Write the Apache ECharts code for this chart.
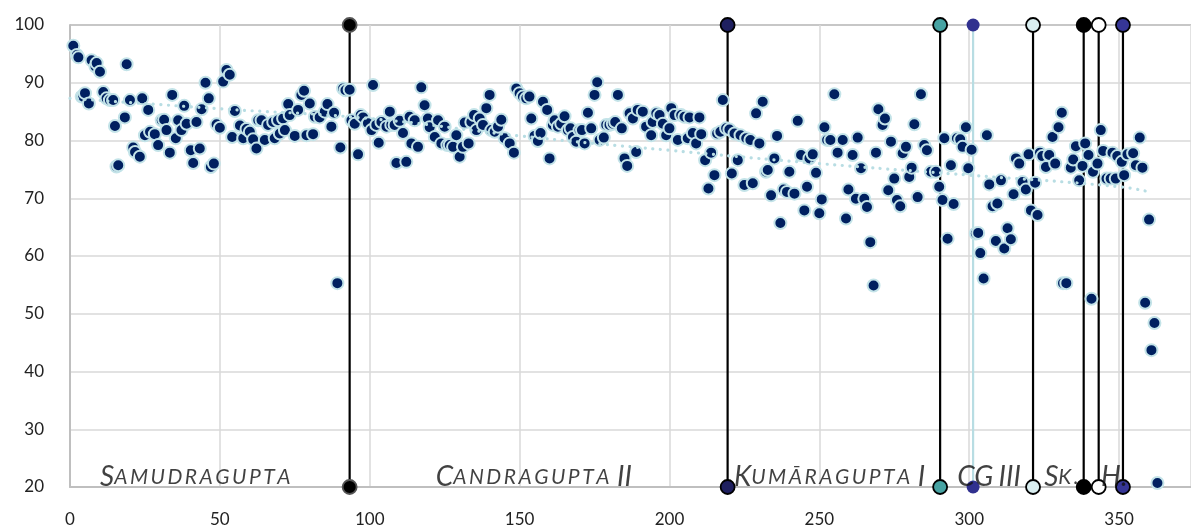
<!DOCTYPE html>
<html>
<head>
    <meta http-equiv="Content-Type" content="text/html; charset=utf-8" />
    <script type="text/javascript" src="https://cdn.jsdelivr.net/npm/echarts@6/dist/echarts.min.js"></script>
</head>
<body style="margin:0;">
    <div id="chartDom" style="width: 1191px; height: 531px;"></div>

    <script type="text/javascript">
        // scores, split by reign
        var samudraguptaPts = [
            [1.1,96.4],[2.3,94.8],[2.8,94.4],[3.9,87.6],[4.4,87.6],[5,88.2],[6.3,86.4],[7.2,93.9],[8.5,92.8],[8.9,93.4],
            [10,91.9],[11.1,88.4],[12.2,87.3],[13.3,87],[14.4,87],[15,82.5],[15.5,75.5],[16.1,75.7],[18.3,84],[18.9,93.2],
            [20,87],[21.1,78.8],[21.7,78],[23.3,77.2],[24.1,87.3],[25,80.9],[26.1,85.3],[26.7,81.5],[28.3,81.1],[29.4,79.2],
            [30.6,83.5],[31.4,83.6],[32.2,81.8],[33.3,77.9],[34.1,87.9],[35.3,80.4],[36.1,83.5],[37.2,81.8],[38.1,86],[38.9,82.9],
            [40.3,78.3],[41.1,76.1],[42.2,83.2],[43.3,78.6],[43.9,85.4],[45.2,90],[46.3,87.3],[47,75.4],[48,76],[48.9,82.8],
            [50,82.2],[51.1,90.2],[52.2,92.2],[53.3,91.4],[54.1,80.6],[55,85.1],[56.7,82.6],[57.8,80.4],[58.9,82],[60,81.5],
            [61.1,80.2],[62.2,78.6],[62.8,83.5],[63.9,83.5],[65,80.1],[66.1,82.7],[67.8,83.2],[68.3,80.4],[69.4,83.5],[70,81.2],
            [71.1,83.8],[71.7,81.8],[72.8,86.3],[73.3,84.4],[75,80.8],[76.1,85.3],[77.2,87.9],[78.1,88.6],[78.9,80.9],[80,86.4],
            [81.1,81.1],[81.7,84.1],[83.3,84],[85,85],[85.9,86.3],[87.2,82.4],[88.1,84.8],[89.2,55.3],[90.2,78.8],[91.1,89],
            [91.9,88.7],[93.3,88.8]
        ];
        var candraguptaPts = [
            [93.9,83.5],[95,82.9],[96.1,77.6],[97,84.4],[97.8,84],[99.4,83],[100.6,81.8],[101.1,89.6],[102.2,82.7],[103,79.6],
            [103.9,83.2],[105.6,82.4],[106.7,85],[107.2,82.7],[108.3,82.7],[108.9,76.1],[110,83.4],[111.1,81.3],[112.2,76.3],[113.3,84.1],
            [113.9,79.5],[115,83.5],[116.1,78.9],[117.2,89.2],[118.3,86.1],[119.4,83.8],[120,82.3],[121.7,80.6],[122.8,83.5],[123.9,79.5],
            [125,82.4],[125.9,79.2],[126.7,79.2],[127.8,78.9],[128.9,80.9],[130,77.2],[131.1,78.9],[131.7,83.1],[133,79.5],[133.9,83.2],
            [134.8,84.4],[135.6,81.8],[136.7,83.8],[137.8,82.7],[138.9,85.6],[140,87.9],[140.6,81.8],[141.7,81.5],[142.8,82.4],[143.9,83.6],
            [145,80.4],[146.7,79.5],[148.1,77.9],[148.9,89],[150,88.2],[151.1,87.6],[152.2,87.3],[153.3,87.6],[153.9,83.8],[155,80.8],
            [156.1,79.9],[157,81.3],[157.8,86.7],[159.2,85.3],[160,76.9],[161.1,82.7],[161.7,83.5],[162.8,82.4],[163.9,82.9],[165,84.2],
            [166.1,81.8],[167,82.1],[167.8,80.6],[168.9,79.8],[170,81.8],[170.8,81.8],[171.7,79.5],[172.8,84.8],[173.9,82.1],[175,87.9],
            [175.9,90.1],[176.7,80.1],[178.1,80.5],[178.9,82.7],[180,82.7],[181.1,82.9],[181.9,83.2],[182.8,87.9],[184.1,82.1],[185,76.9],
            [185.9,75.6],[186.7,84.7],[187.8,83.8],[188.9,78],[189.4,85.3],[191.1,85],[192.2,82.4],[193.9,80.9],[194.4,83.2],[195.6,84.7],
            [196.7,84.4],[197.8,82.9],[198.9,80.9],[200,82.1],[200.6,85.6],[201.7,84.4],[202.8,80.1],[203.9,84.4],[205,84.1],[206.1,80.4],
            [206.7,84],[207.8,81.3],[208.9,79.5],[210,84],[210.6,81.1],[211.9,76.6],[213,71.7],[213.9,77.9],[215,74],[215.9,81.2],
            [217,81.5],[217.8,87],[218.9,82.1]
        ];
        var kumaraguptaPts = [
            [220,81.9],[220.8,74.3],[221.7,81.2],[222.8,76.6],[223.7,80.9],[225,72.3],[225.6,80.4],[227,80.1],[227.8,72.6],[228.9,84.7],
            [230,79.5],[231.1,86.7],[232.2,74.6],[232.8,74.9],[233.9,70.5],[235,76.9],[235.9,80.8],[237,65.7],[238.1,71.5],[239.2,71.1],
            [240,74.6],[241.7,70.8],[242.8,83.4],[243.9,77.5],[245,67.9],[245.9,72],[246.7,76.9],[247.8,77.6],[248.9,74.4],[250,67.4],
            [250.8,69.8],[251.7,82.3],[252.6,80.1],[253.7,80.1],[255,88],[256.1,77.9],[257.8,80.1],[258.9,66.5],[259.7,71.5],[261.1,77.5],
            [262.2,69.9],[262.8,80.5],[263.9,75.2],[265,69.9],[265.9,68.5],[267,62.4],[268.1,54.9],[268.9,77.9],[269.7,85.4],[271.1,82.7],
            [271.9,83.8],[273,71.4],[273.9,79.8],[275,73.4],[275.9,69.7],[277,68.6],[277.8,77.8],[278.9,78.9],[280,73.7],[280.8,75.3],
            [281.7,82.8],[282.8,70.2],[283.9,88],[285,79.2],[285.9,78.3],[287.2,74.6],[288.9,74.6],[290,72]
        ];
        var laterPts = [
            [291.1,69.7],[291.7,80.4],[292.8,63],[293.9,75.7],[294.8,69],[295.9,80.4],[297,80.2],[297.8,78.9],[298.9,82.3],[299.7,75.2],
            [300.8,78.4],[302.2,63.9],[303,64],[303.7,60.5],[304.8,56.1],[305.9,80.9],[306.7,72.4],[307.8,68.6],[308.9,62.6],[309.4,69.1],
            [310.6,73.1],[311.7,61.3],[312.8,64.8],[313.9,62.9],[314.8,70.7],[315.6,76.9],[316.7,76],[317.8,72.8],[318.9,71.5],[319.8,77.6],
            [320.6,67.9],[322,72.7],[322.8,67.1],[323.6,77.9],[324.4,77.3],[325.6,75.4],[326.7,77.5],[327.8,80.6],[328.7,76],[329.8,82.3],
            [330.9,84.8],[331.3,55.3],[332.4,55.3],[333.9,75.3],[334.7,76.7],[335.6,79],[336.7,73.1],[337.8,75.6],[338.7,79.5],[339.8,77.5],
            [340.8,52.6],[341.3,74.6],[342.8,76],[343.9,81.8],[344.7,78.2],[345.8,73.4],[347.2,73.4],[347.8,77.9],[348.9,73.4],[349.4,77.3],
            [350.9,76.3],[351.7,74],[352.8,77.6],[354.7,77.8],[355.6,75.7],[356.9,80.5],[357.8,75.3],[358.7,51.9],[360,66.3],[360.8,43.7],
            [361.8,48.4],[362.8,20.7]
        ];

        // dotted trend, read at a few x positions
        var trendX = [0, 50, 100, 150, 200, 250, 300, 350, 360];
        var trendY = [87.3, 85.5, 83.8, 80.8, 78.3, 76, 74, 72, 71.1];

        // reign boundaries
        var dividerX = [93.3, 219.4, 290.3, 301.3, 321.3, 338.2, 343.2, 351.3];
        var dividerFill = ['#000000', '#1f2060', '#47a3a3', '#30308f', '#d9eef0', '#000000', '#ffffff', '#363696'];
        var dividerLine = ['#000000', '#000000', '#000000', '#b8dde3', '#000000', '#000000', '#000000', '#000000'];
        var dividerBorder = ['#555555', '#000000', '#000000', '#30308f', '#000000', '#000000', '#000000', '#000000'];

        var reignNames = ['Samudragupta', 'Candragupta II', 'Kumāragupta I', 'CG III', 'Sk.', 'H.'];
        var reignStart = [10, 122, 221.5, 296, 325, 344];

        var yTicks = [20, 100];
        var xTicks = [0, 374];

        // fake small caps: capital stays big, the rest goes small and a bit spaced out
        function smallCaps(name) {
            return name.split(' ').map(function (w) {
                if (w === w.toUpperCase() && /[A-Z]/.test(w)) return '{big|' + w + '}';
                var rest = w.slice(1).toUpperCase().split('').map(function (c) {
                    return '{small|' + c + '}';
                }).join('');
                return '{big|' + w.charAt(0) + '}' + rest;
            }).join('{gap| }');
        }

        var series = [];
        dividerX.forEach(function (x, i) {
            series.push({
                type: 'line',
                data: [[x, yTicks[0]], [x, yTicks[1]]],
                symbol: 'circle',
                symbolSize: i === 3 ? 13 : 14,
                showSymbol: true,
                clip: false,
                z: 2,
                lineStyle: { color: dividerLine[i], width: 2.2 },
                itemStyle: { color: dividerFill[i], borderColor: dividerBorder[i], borderWidth: i === 3 ? 0 : 1.8 },
                emphasis: { disabled: true },
                silent: true
            });
        });

        series.push({
            type: 'scatter',
            data: samudraguptaPts.concat(candraguptaPts, kumaraguptaPts, laterPts),
            symbol: 'circle',
            symbolSize: 12,
            z: 3,
            itemStyle: { color: '#002060', borderColor: '#c3e3e8', borderWidth: 2, opacity: 1 },
            silent: true
        });

        series.push({
            type: 'line',
            data: trendX.map(function (x, i) { return [x, trendY[i]]; }),
            smooth: true,
            showSymbol: false,
            z: 4,
            lineStyle: { color: '#b8dde3', width: 3.2, type: [0.1, 7.5], cap: 'round' },
            silent: true
        });

        series.push({
            type: 'scatter',
            data: reignStart.map(function (x, i) { return [x, yTicks[0], reignNames[i]]; }),
            symbolSize: 0,
            z: 5,
            silent: true,
            label: {
                show: true,
                position: 'right',
                distance: 0,
                verticalAlign: 'bottom',
                offset: [0, 4],
                formatter: function (p) { return smallCaps(p.data[2]); },
                rich: {
                    big: { fontFamily: 'Lato', fontStyle: 'italic', fontSize: 28, color: '#111' },
                    small: { fontFamily: 'Lato', fontStyle: 'italic', fontSize: 21, color: '#111', padding: [0, 2.5, 0, 0] },
                    gap: { fontFamily: 'Lato', fontStyle: 'italic', fontSize: 22, color: '#111' }
                }
            }
        });

        var myChart = echarts.init(document.getElementById('chartDom'));
        myChart.setOption({
            animation: false,
            backgroundColor: '#ffffff',
            grid: { left: 70, right: 0, top: 25, bottom: 44 },
            xAxis: {
                type: 'value',
                min: xTicks[0], max: xTicks[1], interval: 50,
                axisLine: { show: true, lineStyle: { color: '#bfbfbf', width: 2 } },
                axisTick: { show: false },
                axisLabel: { color: '#222', fontFamily: 'Lato', fontSize: 17, margin: 24, showMaxLabel: false },
                splitLine: { show: true, lineStyle: { color: '#d9d9d9', width: 1.5 } }
            },
            yAxis: {
                type: 'value',
                min: yTicks[0], max: yTicks[1], interval: 10,
                axisLine: { show: true, lineStyle: { color: '#bfbfbf', width: 2 } },
                axisTick: { show: false },
                axisLabel: { color: '#222', fontFamily: 'Lato', fontSize: 17, margin: 26 },
                splitLine: {
                    show: true,
                    lineStyle: {
                        color: ['#d9d9d9', '#d9d9d9', '#d9d9d9', '#d9d9d9', '#d9d9d9', '#d9d9d9', '#d9d9d9', '#d9d9d9', '#b5b5b5'],
                        width: 1.5
                    }
                }
            },
            series: series
        });

        window.onresize = myChart.resize;
    </script>
</body>
</html>
